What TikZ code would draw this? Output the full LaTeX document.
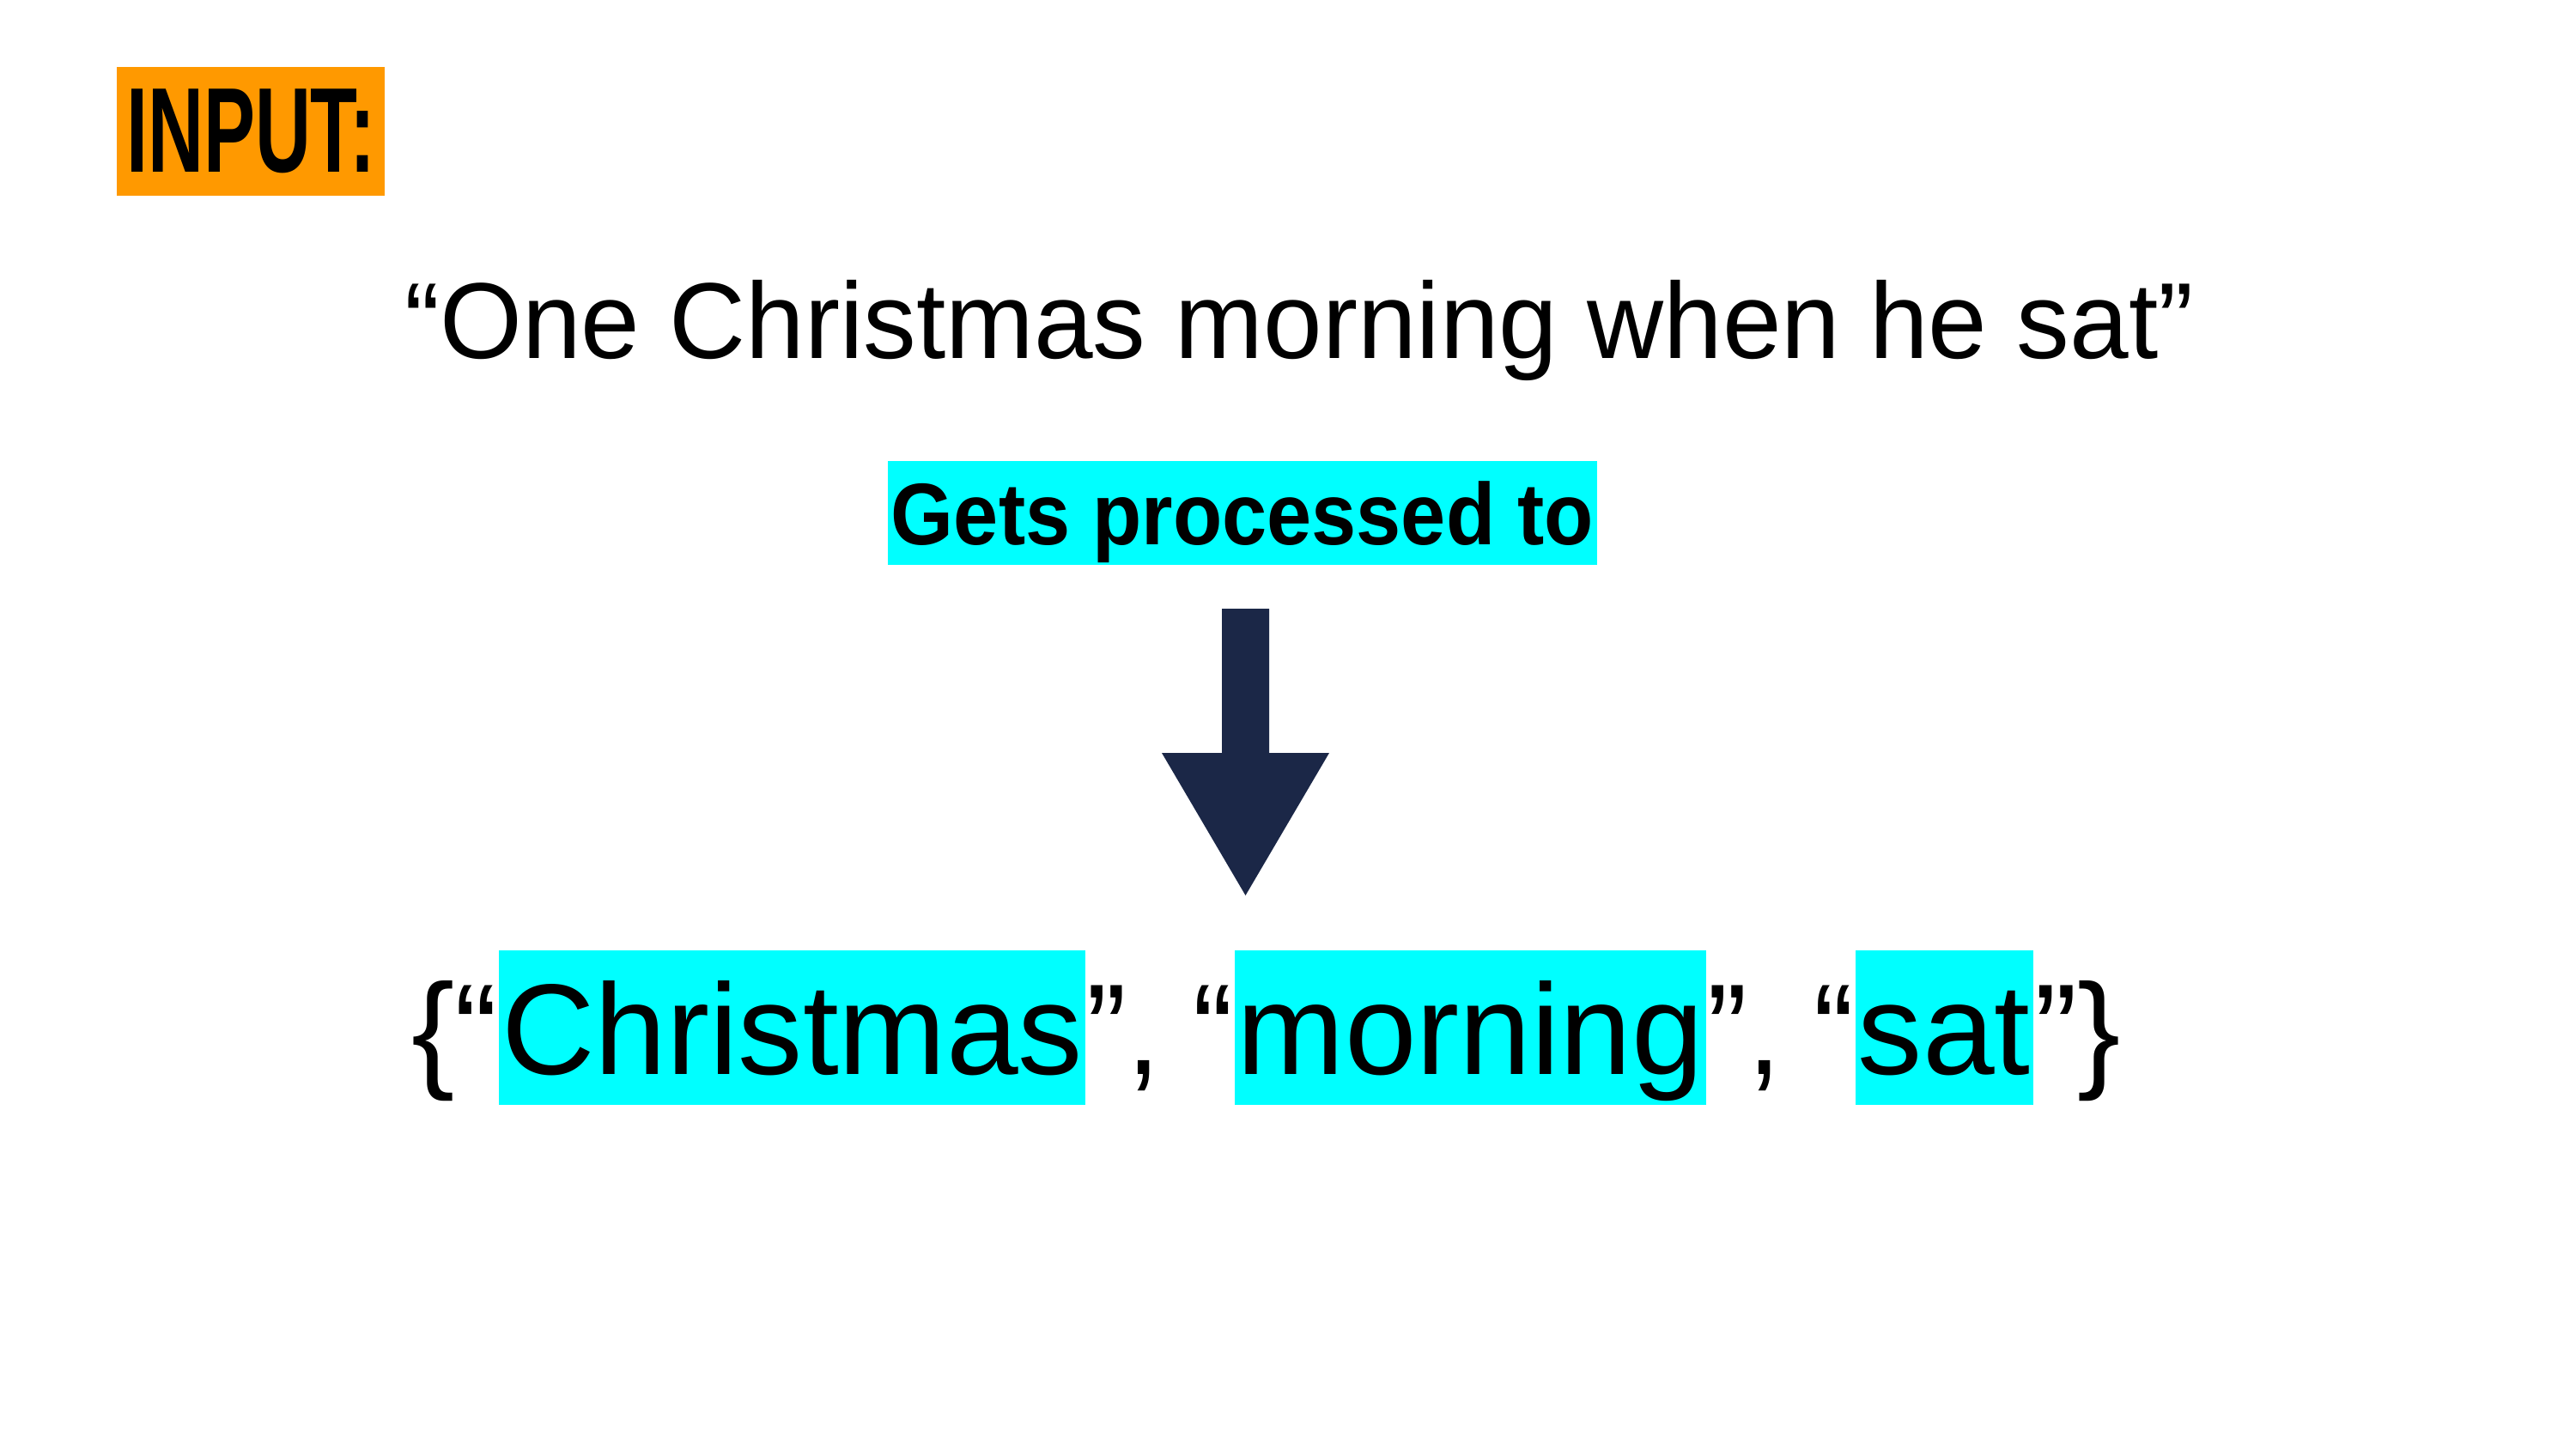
\documentclass[tikz,border=0pt]{standalone}
\usepackage{fontspec}
\usepackage{graphicx}
\usepackage{tikz}
\usetikzlibrary{positioning}
\newfontfamily\slidefont{Liberation Sans}
\definecolor{inorange}{HTML}{FF9900}
\definecolor{hicyan}{HTML}{00FFFF}
\definecolor{arrnavy}{HTML}{1B2747}
\tikzset{
  % rubrik och text
  inbox/.style={fill=inorange,inner sep=0pt,minimum width=3.12cm,minimum height=1.5cm,
                font=\slidefont\bfseries\fontsize{40}{40}\selectfont},
  sent/.style={inner sep=0pt,font=\slidefont\fontsize{35.8}{40}\selectfont},
  proc/.style={fill=hicyan,inner xsep=0pt,inner ysep=0.24cm,minimum width=8.26cm,
               text height=0.73cm,text depth=0cm,
               font=\slidefont\bfseries\fontsize{29}{32}\selectfont},
  % ordmängd
  hl/.style={fill=hicyan,inner xsep=0.03cm,inner ysep=0pt,text height=1.44cm,text depth=0.36cm,
             font=\slidefont\fontsize{42.8}{48}\selectfont},
  pl/.style={inner sep=0pt,font=\slidefont\fontsize{42.8}{48}\selectfont},
  blockarr/.style={fill=arrnavy},
}
\newcommand\sepq[1]{\scalebox{0.93}[1]{#1}}
\begin{document}
\begin{tikzpicture}
\useasboundingbox (0,0) rectangle (30,-16.88);
  \node[inbox] (in) at (2.92,-1.53) {\scalebox{0.64}[1]{INPUT:}};
  \node[sent,anchor=base] (s) at (15.13,-4.17) {\scalebox{0.98}[1]{“One Christmas morning when he sat”}};
  \node[proc] (p) at (14.47,-5.975) {\scalebox{0.92}[1]{Gets processed to}};
  \coordinate (t) at (14.505,-7.09);
  \fill[blockarr] (t) ++(-0.275,0) -- ++(0.55,0) -- ++(0,-1.68) -- ++(0.7,0)
    -- ++(-0.975,-1.66) -- ++(-0.975,1.66) -- ++(0.7,0) -- cycle;
  \node[hl,anchor=base] (w2) at (17.125,-12.51) {morning};
  \node[pl,base left=0pt of w2] (q1) {\sepq{”, “}};
  \node[hl,base left=0pt of q1] (w1) {Christmas};
  \node[pl,base left=0pt of w1] (q0) {\{“};
  \node[pl,base right=0pt of w2] (q2) {\sepq{”, “}};
  \node[hl,base right=0pt of q2] (w3) {sat};
  \node[pl,base right=0pt of w3] (q3) {”\}};
\end{tikzpicture}
\end{document}
